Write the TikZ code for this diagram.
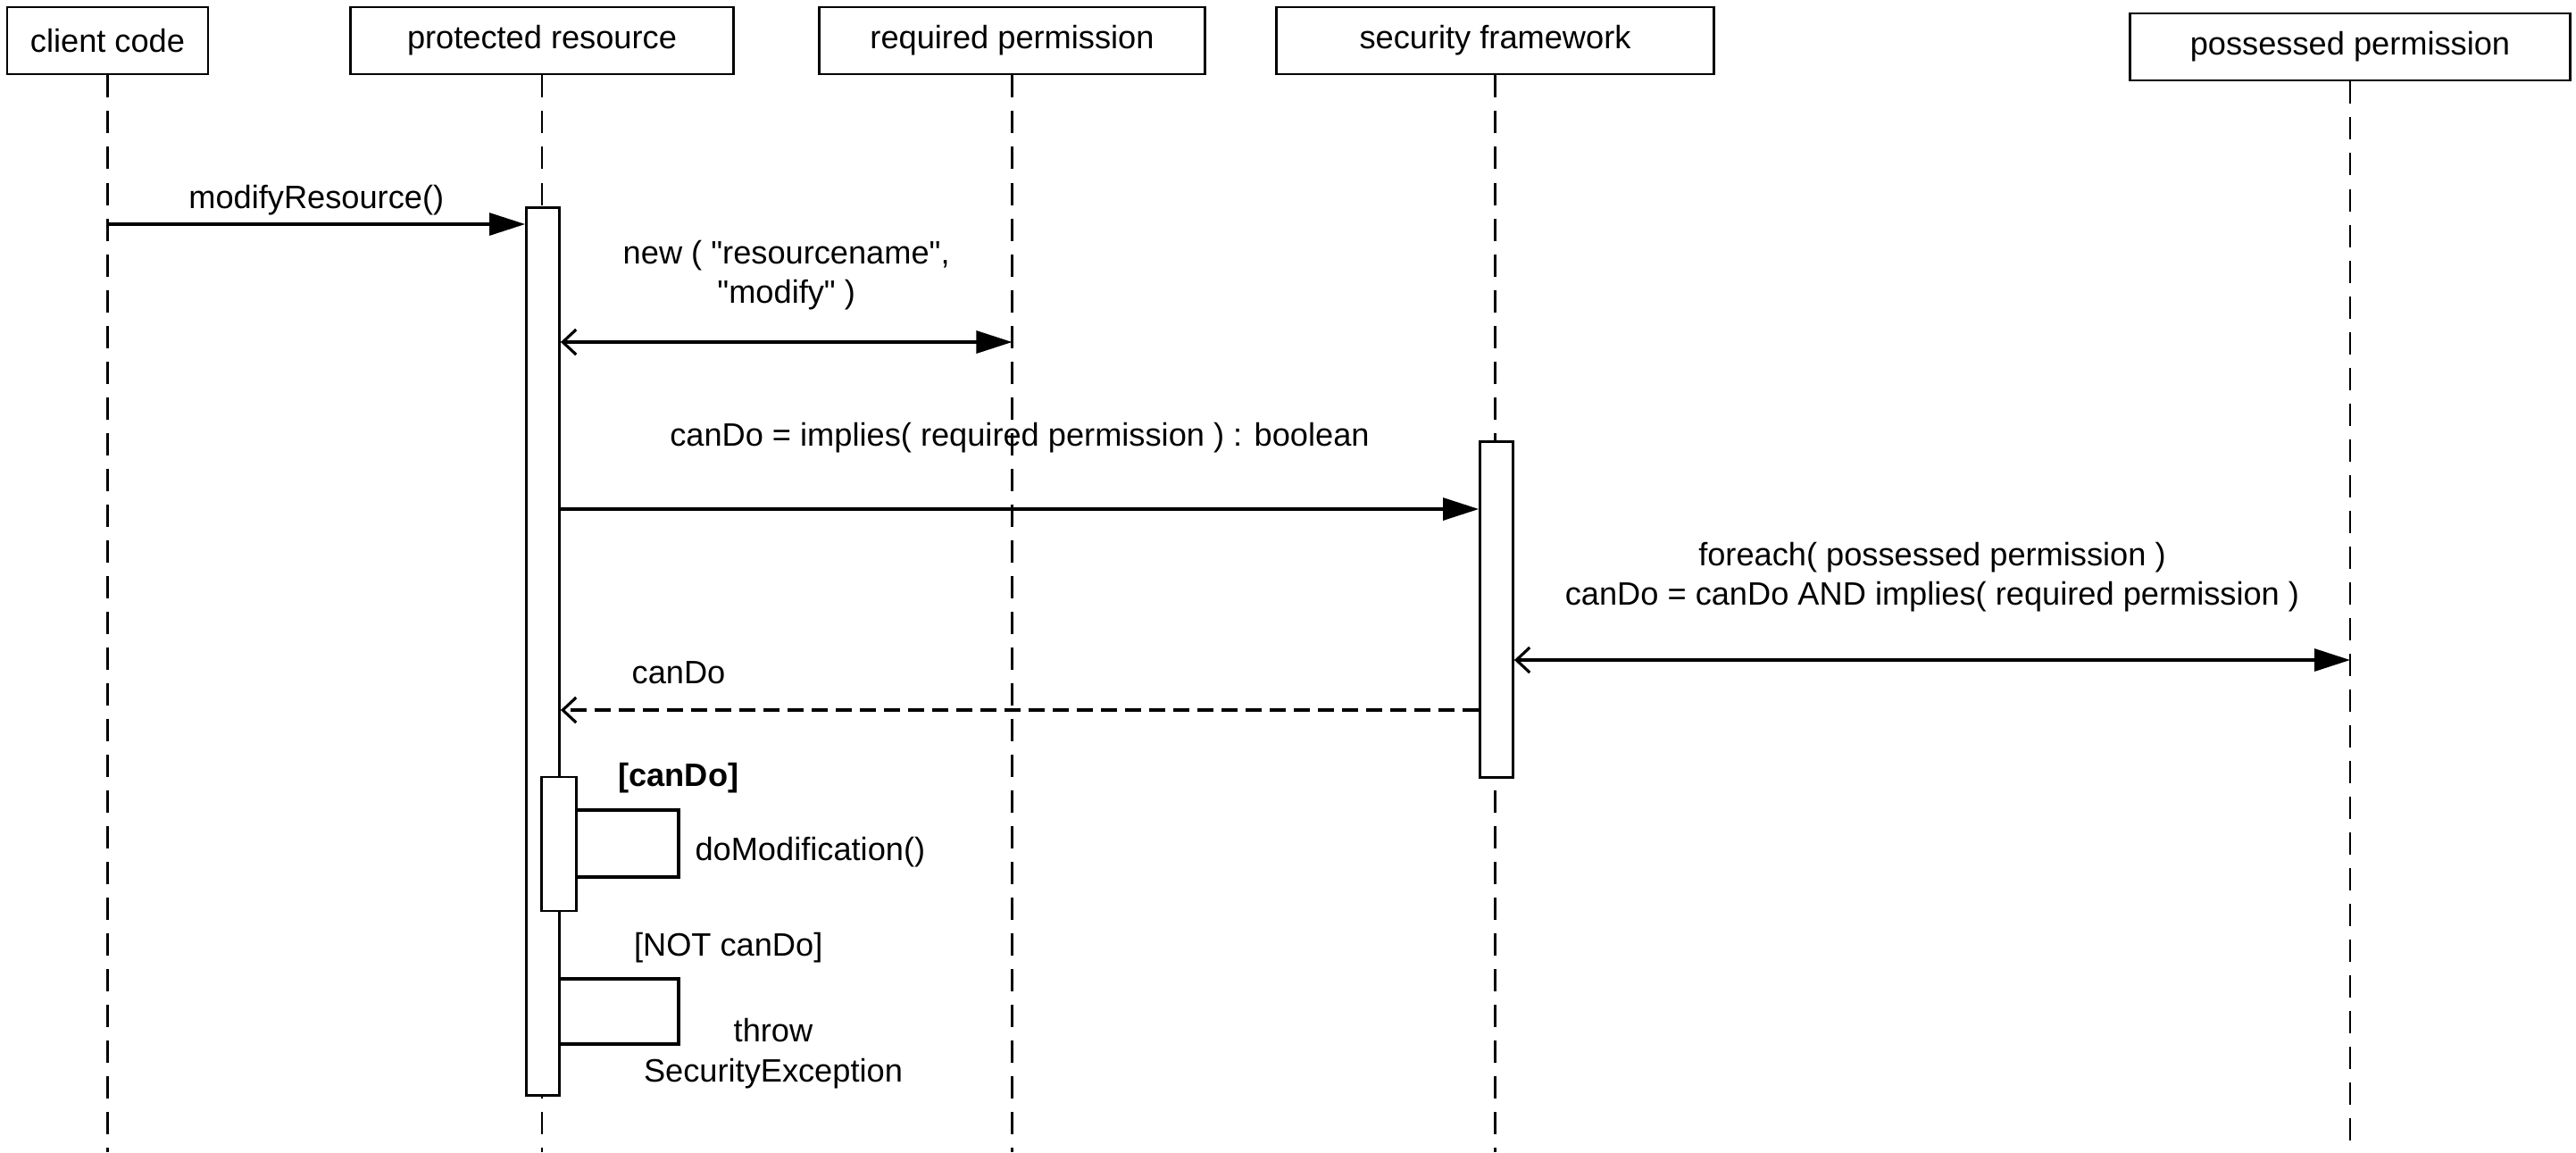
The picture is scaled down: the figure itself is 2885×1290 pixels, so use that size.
\documentclass[tikz,border=0pt]{standalone}
\usepackage{fontspec}
\setmainfont{Liberation Sans}[Ligatures=TeXOff]
\usetikzlibrary{arrows.meta}

\tikzset{
  txt/.style={font=\fontsize{10.3}{12.7}\selectfont},
  object/.style={draw, txt, line width=0.8pt, minimum height=0.75cm, inner sep=0pt},
  lifeline/.style={line width=0.6pt, dash pattern=on 0.25cm off 0.15cm},
  activation/.style={draw, fill=white, line width=0.8pt, minimum width=0.37cm, inner sep=0pt},
  call/.style={line width=0.9pt, -{Triangle[length=0.4cm,width=0.25cm]}},
  create/.style={line width=0.9pt, {Straight Barb[length=0.15cm,width=0.28cm]}-{Triangle[length=0.4cm,width=0.25cm]}},
  reply/.style={line width=0.9pt, dash pattern=on 0.18cm off 0.09cm, -{Straight Barb[length=0.15cm,width=0.28cm]}},
  selfcall/.style={line width=0.9pt},
  msglabel/.style={txt, align=center, inner sep=0pt}
}

\begin{document}
\begin{tikzpicture}[x=0.01cm, y=-0.01cm]
  \useasboundingbox (0,0) rectangle (2885,1290);
  % objects
  \node[object, minimum width=2.25cm] (client) at (120.5,45.5) {client code};
  \node[object, minimum width=4.28cm] (prot) at (607,45.5) {protected resource};
  \node[object, minimum width=4.31cm] (req) at (1133.5,45.5) {required permission};
  \node[object, minimum width=4.89cm] (sec) at (1674.5,45.5) {security framework};
  \node[object, minimum width=4.93cm] (poss) at (2632,52.5) {possessed permission};
  \foreach \o in {client,prot,req,sec,poss}
    \draw[lifeline] (\o.south) -- (\o.south |- 0,1290);
  % activations
  \node[activation, minimum height=9.93cm] (protAct) at (608,729.5) {};
  \node[activation, minimum height=3.75cm] (secAct) at (1676,682.5) {};
  \node[activation, minimum width=0.39cm, minimum height=1.5cm] (modAct) at (626,945) {};
  % messages
  \draw[call] (client.south |- 0,251) -- (protAct.west |- 0,251)
    node[msglabel, midway, anchor=base, yshift=0.18cm] {modifyResource()};
  \draw[create] (protAct.east |- 0,383) -- (req.south |- 0,383)
    node[msglabel, midway, anchor=base, yshift=0.43cm] {new ( "resourcename",\\"modify" )};
  \draw[call] (protAct.east |- 0,570) -- (secAct.west |- 0,570)
    node[msglabel, midway, anchor=base, yshift=0.70cm] {canDo = implies( required permission ) : boolean};
  \draw[create] (secAct.east |- 0,739) -- (poss.south |- 0,739)
    node[msglabel, midway, anchor=base, yshift=0.61cm] {foreach( possessed permission )\\canDo = canDo AND implies( required permission )};
  \draw[reply] (secAct.west |- 0,795) -- (protAct.east |- 0,795)
    node[msglabel, pos=0.924, anchor=base west, yshift=0.30cm] {canDo};
  % self calls
  \draw[selfcall] (modAct.east |- 0,907) -- ++(113,0)
    node[msglabel, at end, anchor=base, yshift=0.27cm] {\bfseries [canDo]}
    -- ++(0,75) node[msglabel, midway, anchor=base west, xshift=0.17cm, yshift=-0.185cm] {doModification()}
    -- (modAct.east |- 0,982);
  \draw[selfcall] (protAct.east |- 0,1096) -- ++(132,0)
    node[msglabel, pos=0.61, anchor=base west, yshift=0.26cm] {[NOT canDo]}
    -- ++(0,73) node[msglabel, midway, anchor=base, xshift=1.06cm, yshift=-0.785cm] {throw\\SecurityException}
    -- (protAct.east |- 0,1169);
\end{tikzpicture}
\end{document}
